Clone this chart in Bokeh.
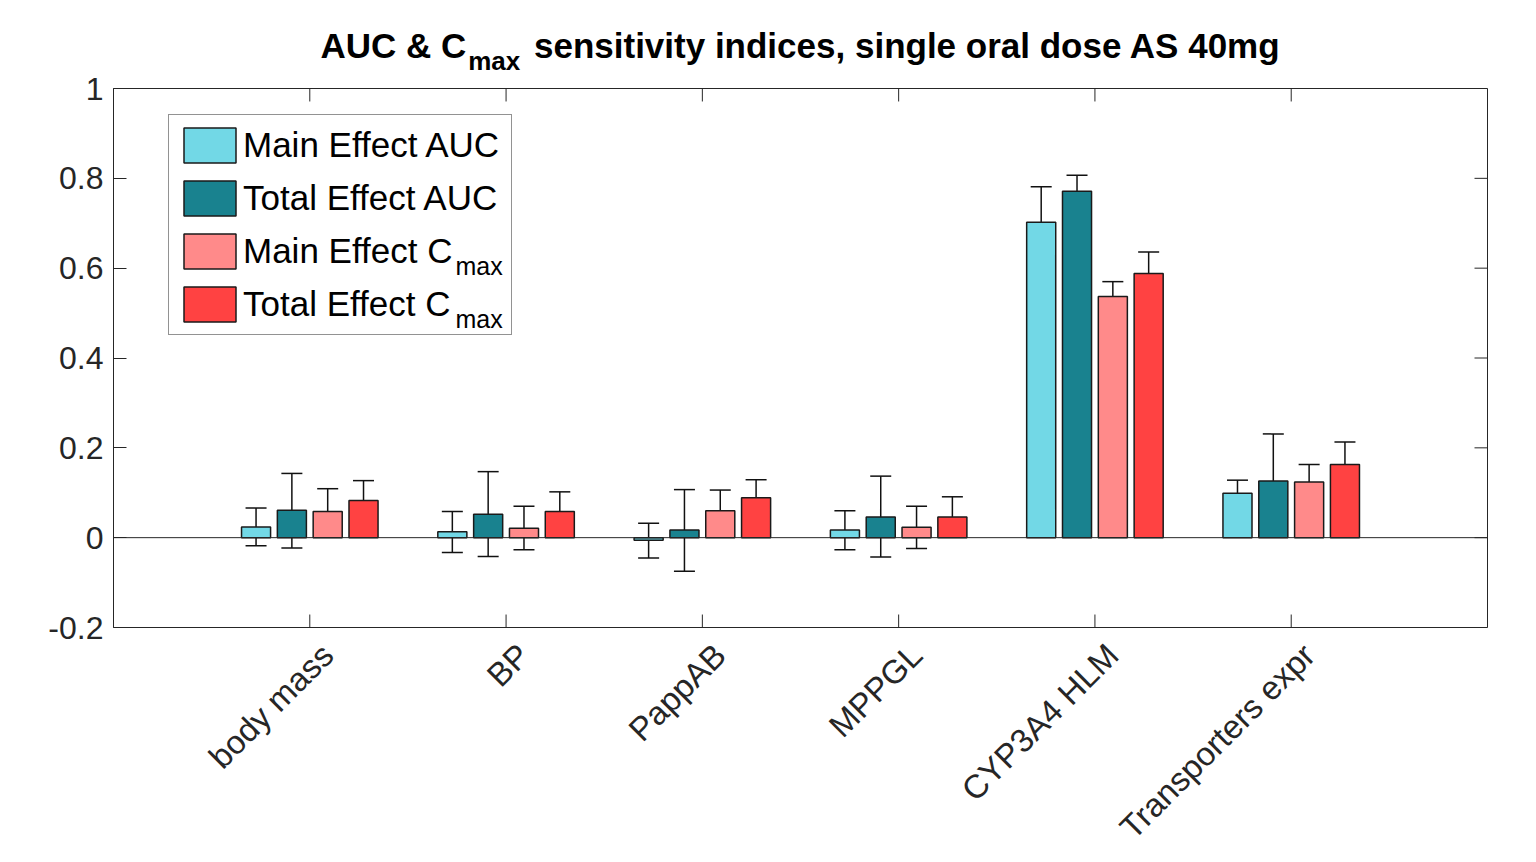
import numpy as np
from bokeh.plotting import figure
from bokeh.layouts import column
from bokeh.models import (Range1d, FixedTicker, LinearAxis, CustomJSTickFormatter, Div,
                          ColumnDataSource, Whisker, TeeHead, Legend, LegendItem, Label, Span)
from bokeh.embed import file_html
from bokeh.resources import INLINE

# ---------------- data ----------------
categories = ["body mass", "BP", "PappAB", "MPPGL", "CYP3A4 HLM", "Transporters expr"]

main_auc = [0.024, 0.013, -0.006, 0.017, 0.702, 0.099]
main_auc_lo = [-0.018, -0.033, -0.045, -0.027, 0.621, 0.067]
main_auc_hi = [0.066, 0.058, 0.032, 0.060, 0.781, 0.128]

total_auc = [0.061, 0.052, 0.017, 0.046, 0.771, 0.126]
total_auc_lo = [-0.023, -0.042, -0.075, -0.043, 0.735, 0.021]
total_auc_hi = [0.143, 0.147, 0.107, 0.137, 0.807, 0.231]

main_cmax = [0.058, 0.021, 0.060, 0.023, 0.537, 0.124]
main_cmax_lo = [0.006, -0.027, 0.014, -0.024, 0.503, 0.085]
main_cmax_hi = [0.109, 0.070, 0.106, 0.070, 0.570, 0.163]

total_cmax = [0.083, 0.058, 0.089, 0.046, 0.588, 0.163]
total_cmax_lo = [0.038, 0.013, 0.049, 0.002, 0.541, 0.113]
total_cmax_hi = [0.127, 0.102, 0.129, 0.091, 0.636, 0.213]

series_labels = ["Main Effect AUC", "Total Effect AUC", "Main Effect C", "Total Effect C"]
series_colors = ["#72D8E6", "#19828F", "#FF8A8A", "#FF4242"]
y_ticks = [-0.2, 0, 0.2, 0.4, 0.6, 0.8, 1.0]

series = [
    (main_auc, main_auc_lo, main_auc_hi),
    (total_auc, total_auc_lo, total_auc_hi),
    (main_cmax, main_cmax_lo, main_cmax_hi),
    (total_cmax, total_cmax_lo, total_cmax_hi),
]

FONT = "Liberation Sans"
AX = "#262626"
W = 1530
X0, X1 = 0, 7
Y0, Y1 = -0.2, 1.0
FRAME_W, FRAME_H = 1374, 540
TICK_PX = 13

# ---------------- title (HTML, with subscript) ----------------
title = Div(
    text=('<div style="margin-left:113px;width:1374px;text-align:center;'
          'font-family:\'Liberation Sans\';font-weight:bold;font-size:35px;'
          'line-height:35px;padding-top:28px;color:#000;white-space:nowrap;">'
          'AUC &amp; C<span style="font-size:26px;position:relative;top:12px;'
          'margin-left:2px;margin-right:4px;">max</span> '
          'sensitivity indices, single oral dose AS 40mg</div>'),
    width=W, height=70, margin=(0, 0, 0, 0))

# ---------------- figure ----------------
p = figure(width=W, height=791, output_backend="svg", toolbar_location=None,
           x_range=Range1d(X0, X1), y_range=Range1d(Y0, Y1),
           min_border_left=113, min_border_right=W - 113 - FRAME_W, min_border_top=18,
           min_border_bottom=791 - 18 - FRAME_H, margin=(0, 0, 0, 0))
p.grid.visible = False
p.outline_line_color = AX
p.outline_line_width = 1
p.background_fill_color = "white"
p.xaxis.visible = False

group_pos = np.arange(1, len(categories) + 1)
bar_w = 0.148
step = 0.1825

legend_items = []
for k, ((vals, lo, hi), lab, col) in enumerate(zip(series, series_labels, series_colors)):
    xs = group_pos + (k - 1.5) * step
    src = ColumnDataSource(dict(x=xs, top=vals, lower=lo, upper=hi))
    r = p.vbar(x="x", top="top", bottom=0, width=bar_w, source=src,
               fill_color=col, line_color="#1a1a1a", line_width=1.5)
    legend_items.append(LegendItem(label=lab, renderers=[r]))
    w = Whisker(source=src, base="x", lower="lower", upper="upper", dimension="height",
                line_color="#111111", line_width=1.5,
                upper_head=TeeHead(size=21, line_color="#111111", line_width=1.5),
                lower_head=TeeHead(size=21, line_color="#111111", line_width=1.5))
    p.add_layout(w)

p.add_layout(Span(location=0, dimension="width", line_color=AX, line_width=1))

# inward tick marks on bottom, top and right edges (box style)
ty = TICK_PX * (Y1 - Y0) / FRAME_H
tx = TICK_PX * (X1 - X0) / FRAME_W
gx = np.asarray(group_pos, dtype=float)
yt_arr = np.asarray(y_ticks, dtype=float)
p.segment(x0=gx, y0=np.full_like(gx, Y0), x1=gx, y1=np.full_like(gx, Y0 + ty),
          line_color=AX, line_width=1)
p.segment(x0=gx, y0=np.full_like(gx, Y1), x1=gx, y1=np.full_like(gx, Y1 - ty),
          line_color=AX, line_width=1)
p.segment(x0=np.full_like(yt_arr, X1), y0=yt_arr, x1=np.full_like(yt_arr, X1 - tx), y1=yt_arr,
          line_color=AX, line_width=1)

# ---------------- y axis ----------------
yax = p.yaxis[0]
yax.ticker = FixedTicker(ticks=y_ticks)
yax.formatter = CustomJSTickFormatter(code="return (Math.round(tick*10)/10).toString();")
yax.axis_line_color = AX
yax.major_tick_line_color = AX
yax.major_tick_in = TICK_PX
yax.major_tick_out = 0
yax.minor_tick_line_color = None
yax.major_label_standoff = 10
yax.major_label_text_font = FONT
yax.major_label_text_font_size = "32px"
yax.major_label_text_color = AX

# ---------------- category labels ----------------
# label-only axis, nudged so the rotated text ends just right of each tick
label_shift = 0.09
p.extra_x_ranges = {"xlab": Range1d(X0 - label_shift, X1 - label_shift)}
lab_ax = LinearAxis(x_range_name="xlab", ticker=FixedTicker(ticks=list(group_pos)))
lab_ax.major_label_overrides = {int(i): c for i, c in zip(group_pos, categories)}
lab_ax.major_label_orientation = np.pi / 4
lab_ax.major_label_standoff = 22
lab_ax.axis_line_color = None
lab_ax.major_tick_line_color = None
lab_ax.major_tick_in = 0
lab_ax.major_tick_out = 0
lab_ax.minor_tick_line_color = None
lab_ax.major_label_text_font = FONT
lab_ax.major_label_text_font_size = "33px"
lab_ax.major_label_text_color = AX
p.add_layout(lab_ax, "below")

# ---------------- legend ----------------
leg = Legend(items=legend_items, location=(55, 292),
             glyph_width=65, glyph_height=44, label_width=260, label_height=35,
             label_standoff=1, spacing=9, padding=8, margin=0,
             label_text_font=FONT, label_text_font_size="35px", label_text_color="#000000",
             border_line_color=AX, border_line_width=1,
             background_fill_color="white", background_fill_alpha=0)
p.add_layout(leg, "center")

for yy in (362, 309):
    p.add_layout(Label(x=342, y=yy, x_units="screen", y_units="screen", text="max",
                       text_font=FONT, text_font_size="25px", text_color="#000000",
                       text_baseline="alphabetic", level="overlay"))

layout = column(title, p, spacing=0, margin=(0, 0, 0, 0))
open("out.html", "w").write(file_html(layout, INLINE))
